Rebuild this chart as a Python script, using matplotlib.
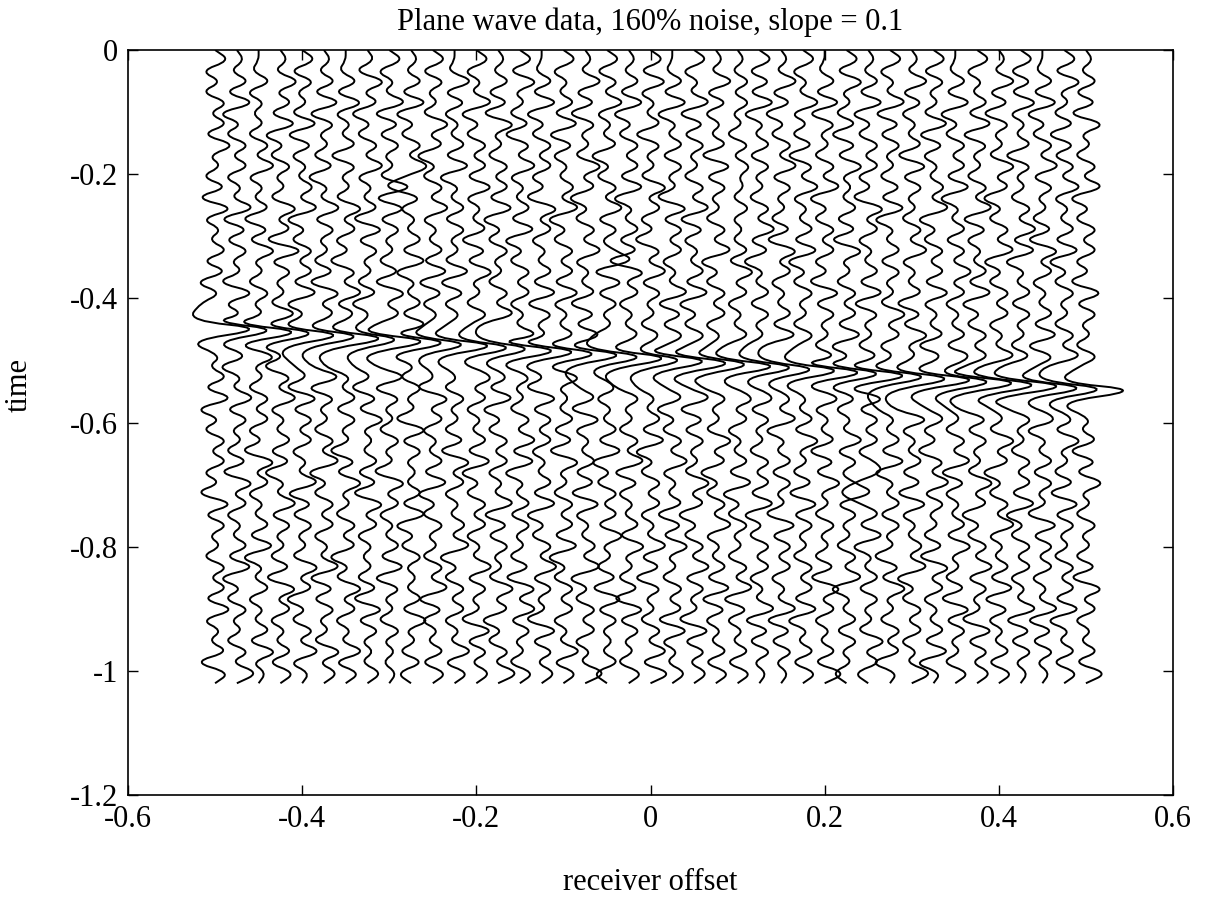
import numpy as np
import matplotlib
matplotlib.use("Agg")
import matplotlib.pyplot as plt
from matplotlib.path import Path
from matplotlib.patches import PathPatch

plt.rcParams["font.family"] = "Liberation Serif"
plt.rcParams["font.size"] = 22
plt.rcParams["axes.unicode_minus"] = False

# receiver offsets of the 41 traces
offsets = [-0.5 + 0.025 * k for k in range(41)]
spacing = 0.025
t_end = -1.02

# background noise, one string per trace: extrema read top to bottom,
# digit 4 = trace centre, one step = 0.35 trace spacing (curve control points)
noise = [
    "4625263627352617253626152637253627152636251726352636272536164",
    "4536271526362537162635172536261537263526173625362715263526374",
    "4436253526372536162735263516273526362517362536271536253627354",
    "4537362715263527361826352736251637253626153726352617362536264",
    "4626352716253637152636271536263517263625371626352736152637254",
    "4536271635261537263526173625362716352637152636253716263527364",
    "4436272536163527362516372635271536263516273526361527362537264",
    "4527361526372536172635261537362516273536261736253526172635364",
    "4625371626352817263526173625362716352635173625362716352635354",
    "4536271526373062536271536271635263517263536271526353627352624",
    "4626352736152637253627162536263517362536271526352637162536264",
    "4437262536271536263527162536371526352617362536371526362537264",
    "4625371526362725361627352635261736253627152636253726351726364",
    "4536261735263627152635263716253627152636253716263527361526374",
    "4627352616372536271526362537261635263727153626352617372635264",
    "4436271526362517362536271635263517263625362715263726351726364",
    "4625362716253637152636272536162735362617352636271526362537264",
    "4537261635273615263725361627352636172536261725363715263625374",
    "4626372536152637263581726352617362536271526362735261726353624",
    "4536271526362715362607362536271526352637162536273526172635264",
    "4627253616352736251637263526173625362715263625372616352637274",
    "4436271536263517263625371626352736152637253616273526361725364",
    "4625371626352637162536271526362537162635273615263726351726364",
    "4537262536172635263715263625371626352736152637253627162536264",
    "4536363526364536353627362536263517362536271526352637162536264",
    "4626271536263526372615362635261737263526362715263625371626354",
    "4537261526372635261736253627163526371536263517263625371626354",
    "4625372526163725362715263526371625362735261726352636271536264",
    "4436271635263715263625172635263627253616273526352617362536274",
    "4627352616273536261735263627152636253726358263526371536263524",
    "4536271526362517362536271635263517263625620362715362635273624",
    "4625371626352627153626352736251637253627153626351627352636154",
    "4537262536172635263725361627352636172536261725363715263625374",
    "4626352716253637152636272536163527362516372635261736253627154",
    "4436271526362715362637362536271526352637162536273526172635264",
    "4625362716352637162536271526362537162635273615263726351726364",
    "4537261635273615263715263625371626352736152637253627162536264",
    "4626272536163526372715362635261737263526362715263625371626354",
    "4436271526372635261736253627163526371536263517263625371626354",
    "4627352616263725362715263526371625362735261726352636271536264",
    "4536261735263715263625172635263627253616273526352617362536274",
]

# plane wave event: time of the main (right) lobe on each trace
event_time = [-0.449, -0.451, -0.454, -0.456, -0.459, -0.461, -0.464, -0.466,
              -0.469, -0.471, -0.474, -0.476, -0.479, -0.481, -0.484, -0.486,
              -0.489, -0.491, -0.494, -0.496, -0.499, -0.501, -0.504, -0.506,
              -0.509, -0.511, -0.514, -0.516, -0.519, -0.521, -0.524, -0.526,
              -0.529, -0.531, -0.534, -0.536, -0.539, -0.541, -0.544, -0.546,
              -0.548]
event_amp = [1.15, 1.0, 1.1, 0.95, 1.05, 1.0, 1.1, 0.9, 1.05, 1.0, 0.95, 1.1,
             1.0, 0.9, 1.05, 1.0, 0.95, 1.05, 1.0, 1.1, 0.9, 1.0, 1.05, 0.95,
             1.1, 1.0, 0.95, 1.05, 1.1, 1.0, 1.15, 1.05, 1.1, 1.2, 1.05, 1.15,
             1.1, 1.2, 1.15, 1.1, 1.25]
# wavelet control points (time shift from main lobe, amplitude in trace spacings)
wave_dt = [0.013, 0.0, -0.02]
wave_amp = [-1.1, 2.2, -1.2]

fig = plt.figure(figsize=(12.09, 9.02), dpi=100)
ax = fig.add_axes([128 / 1209, 1 - 795 / 902, (1173 - 128) / 1209, (795 - 50) / 902])


def wiggle(ax, xs, ts):
    # smooth curve through the midpoints, extrema act as control points
    pts = np.column_stack([xs, ts])
    mids = (pts[:-1] + pts[1:]) / 2
    verts = [pts[0], mids[0]]
    codes = [Path.MOVETO, Path.LINETO]
    for k in range(1, len(pts) - 1):
        verts += [pts[k], mids[k]]
        codes += [Path.CURVE3, Path.CURVE3]
    verts.append(pts[-1])
    codes.append(Path.LINETO)
    ax.add_patch(PathPatch(Path(verts, codes), fill=False, ec="black", lw=1.4))


for x0, s, te, ea in zip(offsets, noise, event_time, event_amp):
    d = np.array([int(c) - 4 for c in s]) * 0.35
    tn = np.linspace(0, t_end, len(d))
    keep = (tn > te + 0.024) | (tn < te - 0.036)
    tt = np.concatenate([tn[keep], te + np.array(wave_dt)])
    dd = np.concatenate([d[keep], ea * np.array(wave_amp)])
    order = np.argsort(-tt)
    wiggle(ax, x0 + dd[order] * spacing, tt[order])

ax.set_xlim(-0.6, 0.6)
ax.set_ylim(-1.2, 0)
xt = [-0.6, -0.4, -0.2, 0, 0.2, 0.4, 0.6]
yt = [-1.2, -1.0, -0.8, -0.6, -0.4, -0.2, 0]
ax.set_xticks(xt)
ax.set_xticklabels(["-0.6", "-0.4", "-0.2", "0", "0.2", "0.4", "0.6"])
ax.set_yticks(yt)
ax.set_yticklabels(["-1.2", "-1", "-0.8", "-0.6", "-0.4", "-0.2", "0"])
ax.tick_params(direction="in", length=7, width=1, top=True, right=True, pad=7)
for sp in ax.spines.values():
    sp.set_linewidth(1.2)

ax.set_xlabel("receiver offset")
ax.xaxis.set_label_coords(0.5, -0.098)
ax.set_ylabel("time")
ax.yaxis.set_label_coords(-0.09, 0.55)
ax.text(0.5, 1.0376, "Plane wave data, 160% noise, slope = 0.1",
        transform=ax.transAxes, ha="center", va="center")

fig.savefig("out.png", dpi=100)
